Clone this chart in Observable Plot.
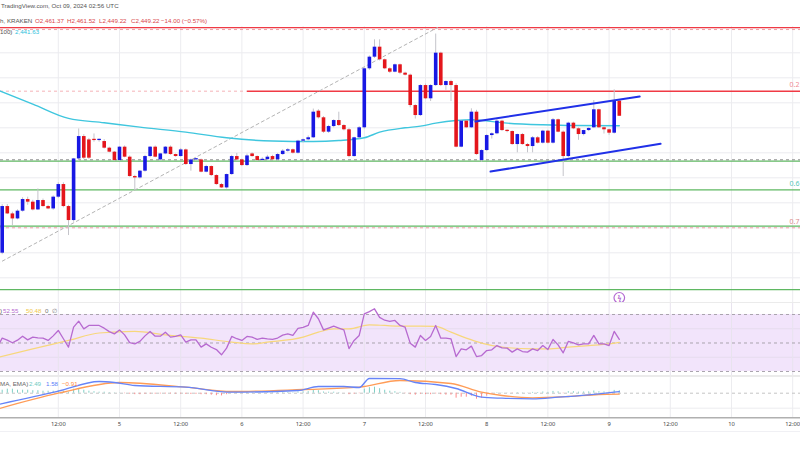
<!DOCTYPE html>
<html><head><meta charset="utf-8">
<script src="https://cdn.jsdelivr.net/npm/d3@7"></script>
<script src="https://cdn.jsdelivr.net/npm/@observablehq/plot@0.6"></script>
<style>
body{margin:0;background:#fff;}
#root{position:relative;width:800px;height:450px;overflow:hidden;font-family:"Liberation Sans",Arial,sans-serif;background:#fff;}
.panel{position:absolute;left:0;}
.lg{position:absolute;white-space:nowrap;line-height:1;}
.sep{position:absolute;left:0;width:800px;}
</style></head><body>
<div id="root"></div>
<script>
// ---------- DATA (hourly ETH/USD, Kraken) ----------
const firstHour = 1; // hours since Oct 4 00:00 UTC
const openP = [2339.7,2377.0,2371.1,2367.1,2373.3,2382.6,2380.5,2374.3,2381.8,2377.0,2375.1,2384.5,2394.6,2377.0,2365.8,2415.1,2433.0,2430.3,2430.3,2429.8,
2429.0,2423.7,2420.5,2413.8,2424.5,2416.5,2401.0,2399.9,2405.3,2417.0,2424.5,2414.3,2419.1,2424.5,2418.6,2417.0,2422.3,2410.6,2414.3,2414.3,
2404.5,2409.0,2401.8,2394.6,2391.9,2402.6,2417.0,2414.3,2409.8,2419.1,2417.0,2413.8,2414.5,2417.0,2414.4,2418.6,2421.3,2422.4,2419.7,2429.3,
2430.4,2432.0,2453.3,2448.0,2436.5,2441.0,2445.8,2441.8,2438.4,2417.0,2432.0,2440.0,2487.2,2496.5,2504.5,2494.4,2487.2,2484.5,2490.4,2483.7,
2482.1,2457.8,2449.8,2473.8,2463.2,2473.8,2499.7,2473.8,2477.0,2473.8,2424.5,2445.3,2440.0,2452.5,2413.8,2421.8,2433.8,2435.2,2445.3,2437.8,
2437.0,2426.6,2434.6,2426.6,2425.0,2432.0,2427.7,2437.3,2427.7,2446.4,2436.5,2417.0,2443.7,2439.2,2434.6,2437.8,2440.0,2454.4,2440.0,2438.4,
2435.7,2461.37];
const highP = [2378.5,2378.6,2372.5,2374.4,2384.0,2384.5,2382.0,2391.1,2383.0,2378.0,2385.5,2396.0,2396.0,2378.0,2415.5,2439.1,2434.5,2431.5,2435.1,2431.0,
2430.5,2424.5,2421.0,2425.0,2425.5,2417.5,2402.0,2405.8,2418.0,2425.0,2425.5,2419.5,2425.0,2425.5,2419.0,2423.5,2423.0,2415.0,2415.5,2415.0,
2410.0,2409.5,2402.5,2395.5,2403.0,2418.0,2419.5,2415.0,2419.0,2420.0,2417.5,2416.0,2418.0,2418.0,2419.5,2422.5,2423.5,2423.0,2430.0,2431.0,
2433.5,2455.0,2454.5,2449.0,2442.0,2446.5,2452.5,2442.5,2439.5,2432.5,2441.0,2488.0,2497.5,2510.4,2510.4,2495.0,2488.0,2491.0,2491.0,2484.5,
2483.0,2458.5,2474.5,2475.0,2474.5,2515.0,2500.5,2477.5,2478.0,2475.2,2446.0,2446.0,2455.2,2454.0,2422.5,2434.5,2436.0,2446.5,2446.0,2438.5,
2437.5,2435.0,2435.5,2427.5,2433.0,2433.0,2438.0,2438.0,2447.5,2447.0,2437.5,2444.5,2444.5,2440.0,2438.0,2440.0,2461.8,2455.0,2441.0,2439.0,
2470.4,2461.52];
const lowP = [2338.5,2370.6,2361.8,2366.4,2372.5,2378.0,2373.5,2373.8,2376.5,2374.5,2374.0,2383.5,2376.0,2353.8,2364.5,2413.0,2414.5,2414.5,2428.5,2428.5,
2423.0,2420.0,2413.0,2413.0,2416.0,2400.5,2389.8,2399.0,2404.5,2416.0,2416.0,2413.5,2418.5,2418.0,2416.5,2416.5,2410.0,2405.3,2413.8,2404.0,
2404.0,2401.0,2394.0,2391.5,2391.0,2402.0,2413.0,2409.0,2409.0,2416.5,2413.0,2413.0,2414.0,2414.0,2413.5,2418.0,2420.5,2419.0,2419.0,2428.0,
2429.5,2431.5,2447.0,2435.5,2435.5,2440.0,2441.0,2437.5,2416.0,2416.5,2431.0,2439.0,2486.0,2495.5,2493.5,2486.5,2483.5,2484.0,2482.5,2481.5,
2456.0,2447.0,2449.0,2462.5,2461.0,2473.0,2473.0,2470.0,2461.0,2424.0,2424.0,2439.5,2439.5,2418.0,2412.5,2421.0,2431.0,2434.5,2437.0,2436.0,
2426.0,2420.0,2426.0,2420.0,2420.0,2427.0,2427.0,2427.0,2427.0,2436.0,2401.0,2416.0,2438.5,2430.0,2433.5,2437.0,2439.5,2439.5,2435.0,2434.0,
2435.0,2449.22];
const closeP = [2377.0,2371.1,2367.1,2373.3,2382.6,2380.5,2374.3,2381.8,2377.0,2375.1,2384.5,2394.6,2377.0,2365.8,2415.1,2433.0,2415.7,2415.7,2429.8,2430.0,
2423.7,2420.5,2413.8,2424.5,2416.5,2401.0,2399.9,2405.3,2417.0,2424.5,2416.5,2419.1,2424.5,2418.6,2417.0,2422.3,2410.6,2414.3,2414.9,2404.5,
2409.0,2401.8,2394.6,2391.9,2402.6,2417.0,2414.3,2409.8,2417.5,2417.0,2413.8,2414.5,2416.5,2414.4,2418.6,2421.3,2422.4,2419.7,2429.3,2430.4,
2432.0,2452.5,2448.0,2436.5,2441.0,2445.8,2441.8,2438.4,2417.0,2432.0,2440.0,2487.2,2496.5,2504.5,2494.4,2487.2,2484.5,2490.4,2483.7,2482.1,
2457.8,2449.8,2473.8,2463.2,2473.8,2499.7,2473.8,2477.0,2473.8,2424.5,2445.3,2440.0,2452.5,2418.6,2421.8,2433.8,2435.2,2445.3,2437.8,2437.0,
2426.6,2434.6,2426.6,2425.0,2432.0,2427.7,2437.3,2427.7,2446.4,2436.5,2417.0,2443.7,2439.2,2434.6,2437.8,2439.5,2454.4,2440.0,2438.4,2435.7,
2461.8,2449.22];

// 100-period moving average (read points)
const maHours  = [0,7,14,21,28,37,45,54,62,67,72,75,80,83,86,90,93,100,107,113,122];
const maValues = [2470.4,2459.0,2447.5,2444.0,2440.5,2436.5,2432.0,2429.4,2429.0,2429.8,2432.0,2436.5,2440.0,2441.3,2443.7,2445.8,2446.4,2443.7,2442.4,2441.8,2441.63];

// price levels
const priceGrid   = [2320,2340,2360,2380,2400,2420,2440,2460,2480,2500,2520];
const topLevel    = [2520.2];
const resistance  = 2469.3;
const resistanceStartHour = 49.1;
const greenLevels = [2413.3,2390.4,2361.3,2310.6];
const pinkDashLevels = [2518.6,2360.0];
const grayDashLevels = [2414.4];
const fibLabels = ["0.2","0.6","0.7"];
const fibLabelPrices = [2474.6,2395.4,2365.0];
const fibDiagonal = [[0,2331.1],[86.35,2520.2]];
const channelUpper = [[93.8,2445.0],[126.0,2465.0]];
const channelLower = [[96.75,2405.0],[130.1,2427.2]];
const eventHour = 122;

// RSI (from hour 0)
const rsiFirstHour = 0;
const rsiValues = [47,53.4,52,50.2,52,54.8,52.2,54.1,53.6,53.4,51.8,55,58.8,53,47.1,61.1,65.3,59.9,62.3,62.3,
62.3,60.4,58,56.4,59.2,55.7,50.2,49.4,51.1,55,58.1,54.8,54.8,57.6,54.1,54.6,55.7,50.6,52.2,52.2,
47.1,49.4,47,45.4,41.7,46.4,54.6,53,51.8,54.6,54.1,52.5,53.4,52.9,52.5,53.5,55.5,56.4,55.3,60.2,
60.9,62.3,71.6,67,59.2,60.5,61.8,60.5,59.2,46,51.8,55.3,70.5,72,74,68,66,65.1,65.8,62.3,
61.1,49.9,47.1,55.3,51.8,54.6,62.3,53.4,53.4,52.9,40.5,45.9,45.2,47.8,40.5,41.2,44.7,45.2,48.2,46.6,
46.4,43.6,45.9,44.0,43.6,45.9,44.7,48.2,45.4,52.5,48.7,43.1,51.1,50.1,48.7,49.4,49.4,55.3,49.4,49.4,
48.2,58.1,52.55];
const rsiMaHours  = [0,7,14,20,27,33,40,46,50,53,60,63,66,69,73,76,79,83,86,89,92,95,99,105,108,112,116,120,122];
const rsiMaValues = [39.8,45.9,51.8,57,58.1,55.7,53.4,50.6,49.4,50.6,54.1,57.6,59.9,59.9,62.7,62.3,61.8,61.8,61.6,57.6,53.4,49.9,47.1,45.9,45.9,47.1,48.2,49.4,50.48];

// MACD
const macdHours   = [0,12,20,23,27,37,46,59,63,68,71,73,79,82,86,90,95,99,105,110,116,121,122];
const macdValues  = [-11.5,2,11.7,10.7,7.7,6,1,2.7,6.7,6.7,5.7,14.7,14.5,10.7,8.7,4.7,-4,-5,-5.6,-4,-1.6,1,1.58];
const signalHours = [0,12,24,37,46,60,71,79,89,95,99,105,112,118,122];
const signalValues= [-16,0,10.7,6,1.7,3.7,6,12.7,9.7,1,-2.3,-4.6,-3.3,-1.3,-0.91];
const histValues = [3,4,4,3,3,3,2.5,2.5,2,2,2,2.5,2,1,4,4,3,2,1.5,1,1,0.5,0.3,0.2,
-0.5,-1,-1.5,-1.5,-1,-1,-1,-0.8,-0.8,-0.7,-0.8,-0.8,-1.2,-1.3,-1.2,-1.5,-1.5,-2,-2.5,-2.7,
-1.5,0,0.5,0.3,0.6,0.5,0.4,0.3,0.5,0.3,0.4,0.6,0.7,0.5,1.2,1.3,1.5,3,2.5,1.2,1,1,0.5,0,-1.5,-1,-0.5,4,5.5,6,4.5,3,2,1.5,0.8,
-0.5,-1.5,-2,-1,-1.5,-1.5,-0.8,-1.5,-2,-2,-5,-4,-4,-3,-6,-5,-3,
-1,0.5,0.3,0.2,-0.3,0.5,0.3,0.2,0.8,0.7,1.2,0.8,1.8,1.4,-0.5,1.5,1.5,1,1.2,1.3,2.2,1.5,1.3,1,2.8,2.49];

// time axis
const tickHours  = [12,24,36,48,60,72,84,96,108,120,132,144,156];
const tickLabels = ["12:00","5","12:00","6","12:00","7","12:00","8","12:00","9","12:00","10","12:00"];

// legend texts
const headerText = "TradingView.com, Oct 09, 2024 02:56 UTC";
const symbolText = "h, KRAKEN";
const ohlcText = ["O2,461.37","H2,461.52","L2,449.22","C2,449.22","\u221214.00 (\u22120.57%)"];
const maLegend = ["100)","2,441.63"];
const rsiLegend = [")","52.55","50.48","0","\u2205"];
const macdLegend = ["MA, EMA)","2.49","1.58","\u22120.91"];

// ---------- BUILD ----------
const root = document.getElementById("root");
const X0 = 0.667, X1 = 157.53;
const BLUE = "#1818e4", RED = "#e4161c";
const GRID = "#ececef";

const candles = openP.map((o,i)=>({h:firstHour+i,o,hi:highP[i],lo:lowP[i],c:closeP[i]}));
const up = candles.filter(d=>d.c>=d.o), down = candles.filter(d=>d.c<d.o);
const bodyLo = d=>Math.min(d.o,d.c), bodyHi = d=>Math.max(Math.max(d.o,d.c), Math.min(d.o,d.c)+1.0);
const ma = maHours.map((h,i)=>({h,v:maValues[i]}));
const yMin = 2300.24, yMax = 2541.84;

const main = Plot.plot({
  width:800, height:302, marginTop:0, marginBottom:0, marginLeft:0, marginRight:0,
  x:{domain:[X0,X1], axis:null},
  y:{domain:[yMin,yMax], axis:null},
  marks:[
    Plot.ruleY(priceGrid,{stroke:GRID,strokeWidth:1}),
    Plot.ruleX(tickHours,{y1:yMin,y2:2521.0,stroke:GRID,strokeWidth:1}),
    Plot.ruleY(greenLevels,{stroke:"#5fb862",strokeWidth:1.2}),
    Plot.ruleY(grayDashLevels,{stroke:"#8c8c8c",strokeWidth:1,strokeDasharray:"3,3"}),
    Plot.ruleY(pinkDashLevels,{stroke:"#f0a0a6",strokeWidth:1,strokeDasharray:"3,3"}),
    Plot.ruleY([resistance],{x1:X0,x2:resistanceStartHour,stroke:"#f5b3b7",strokeWidth:1,strokeDasharray:"3,3"}),
    Plot.ruleY([resistance],{x1:resistanceStartHour,x2:X1,stroke:"#f03a44",strokeWidth:1.4}),
    Plot.ruleY(topLevel,{stroke:"#f03a44",strokeWidth:1.3}),
    Plot.line(fibDiagonal,{x:d=>d[0],y:d=>d[1],stroke:"#b4b4b4",strokeWidth:1,strokeDasharray:"3,3"}),
    Plot.line(ma,{x:"h",y:"v",stroke:"#3fc6de",strokeWidth:1.4,curve:"monotone-x"}),
    Plot.ruleX(candles,{x:"h",y1:"lo",y2:"hi",stroke:"#c4c4ca",strokeWidth:1}),
    Plot.ruleX(up,{x:"h",y1:bodyLo,y2:bodyHi,stroke:BLUE,strokeWidth:3.6}),
    Plot.ruleX(down,{x:"h",y1:bodyLo,y2:bodyHi,stroke:RED,strokeWidth:3.6}),
    Plot.line(channelUpper,{x:d=>d[0],y:d=>d[1],stroke:"#2030e8",strokeWidth:2}),
    Plot.line(channelLower,{x:d=>d[0],y:d=>d[1],stroke:"#2030e8",strokeWidth:2}),
    Plot.text(fibLabels,{x:X1,y:(d,i)=>fibLabelPrices[i],text:d=>d,textAnchor:"end",dx:-1,fontSize:7,
      fill:(d,i)=>["#f08c94","#59c6b8","#d98c8c"][i]}),
    Plot.dot([eventHour],{x:d=>d,y:2304.0,r:5.3,stroke:"#b46ad2",strokeWidth:1.2,fill:"white"}),
    Plot.text([eventHour],{x:d=>d,y:2304.0,text:()=>"\u03df",fontSize:7,fill:"#b46ad2",fontWeight:"bold"})
  ]
});
main.classList.add("panel"); main.style.top="0px";
root.appendChild(main);

// RSI panel
const rsi = rsiValues.map((v,i)=>({h:rsiFirstHour+i,v}));
const rsiMa = rsiMaHours.map((h,i)=>({h,v:rsiMaValues[i]}));
const rsiPlot = Plot.plot({
  width:800, height:74, marginTop:0, marginBottom:0, marginLeft:0, marginRight:0,
  x:{domain:[X0,X1], axis:null},
  y:{domain:[26.49,78.42], axis:null},
  marks:[
    Plot.rect([0],{x1:X0,x2:X1,y1:30,y2:70,fill:"#f2e4fb"}),
    Plot.ruleY([60,40],{stroke:"#e6dcee",strokeWidth:1}),
    Plot.ruleX(tickHours,{stroke:"#e8e3ee",strokeWidth:1}),
    Plot.ruleY([70,50,30],{stroke:"#a9a3ae",strokeWidth:1,strokeDasharray:"3,3"}),
    Plot.line(rsiMa,{x:"h",y:"v",stroke:"#f7d77c",strokeWidth:1.2,curve:"monotone-x"}),
    Plot.line(rsi,{x:"h",y:"v",stroke:"#b76ad0",strokeWidth:1.3})
  ]
});
rsiPlot.classList.add("panel"); rsiPlot.style.top="302px";
root.appendChild(rsiPlot);

// MACD panel + time axis
const macd = macdHours.map((h,i)=>({h,v:macdValues[i]}));
const signal = signalHours.map((h,i)=>({h,v:signalValues[i]}));
const hist = histValues.map((v,i)=>({h:firstHour+i,v}));
const macdPlot = Plot.plot({
  width:800, height:74, marginTop:0, marginBottom:32.7, marginLeft:0, marginRight:0,
  x:{domain:[X0,X1], label:null},
  y:{domain:[-24.6,16.7], axis:null},
  marks:[
    Plot.ruleY([-15],{stroke:GRID,strokeWidth:1}),
    Plot.ruleX(tickHours,{stroke:GRID,strokeWidth:1}),
    Plot.ruleY([0],{stroke:"#c4c4c4",strokeWidth:1,strokeDasharray:"3,3"}),
    Plot.ruleX(hist.filter(d=>d.v>=0),{x:"h",y1:0,y2:"v",stroke:"#7fcfc5",strokeWidth:1}),
    Plot.ruleX(hist.filter(d=>d.v<0),{x:"h",y1:0,y2:"v",stroke:"#ff8b8b",strokeWidth:1}),
    Plot.line(signal,{x:"h",y:"v",stroke:"#ff9c57",strokeWidth:1.3,curve:"monotone-x"}),
    Plot.line(macd,{x:"h",y:"v",stroke:"#6684f8",strokeWidth:1.3,curve:"monotone-x"}),
    Plot.ruleY([-24.6],{stroke:"#b0b0b0",strokeWidth:1.5}),
    Plot.axisX(tickHours,{tickSize:0,tickPadding:4,fontSize:5.8,fill:"#444",label:null,
      tickFormat:d=>tickLabels[tickHours.indexOf(d)]})
  ]
});
macdPlot.classList.add("panel"); macdPlot.style.top="376px";
root.appendChild(macdPlot);

// separators
function sep(top,h,color){const d=document.createElement("div");d.className="sep";d.style.top=top+"px";d.style.height=h+"px";d.style.background=color;root.appendChild(d);}
sep(301.5,1.5,"#ebebeb"); sep(375,1.5,"#ebebeb"); sep(430.5,1,"#f0f0f4");

// legends
function lbl(text,left,cy,color,size){const d=document.createElement("div");d.className="lg";d.textContent=text;
  d.style.left=left+"px";d.style.top=(cy-size*0.55)+"px";d.style.color=color;d.style.fontSize=size+"px";root.appendChild(d);}
lbl(headerText,1,6.8,"#555",6.2);
lbl(symbolText,0,21.8,"#555",6.2);
[35,67,99,131,161].forEach((x,i)=>lbl(ohlcText[i],x,21.8,"#d9474b",6.2));
lbl(maLegend[0],0,32.5,"#555",6.2);
lbl(maLegend[1],15,32.5,"#2fc1dc",6.2);
[0,3,26,45,52].forEach((x,i)=>lbl(rsiLegend[i],x,311.7,["#555","#b76ad0","#f0c64a","#777","#777"][i],6.2));
[0,29,46,62].forEach((x,i)=>lbl(macdLegend[i],x,384,["#666","#6fcabf","#5a7cf8","#ff8a3d"][i],6.2));
</script>
</body></html>
